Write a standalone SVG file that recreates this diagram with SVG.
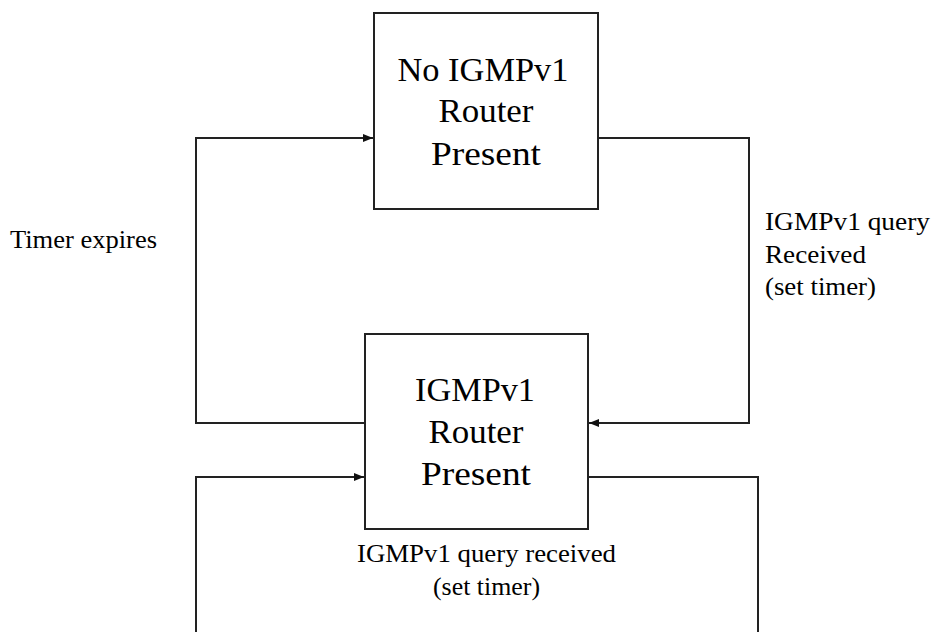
<svg xmlns="http://www.w3.org/2000/svg" width="935" height="632" viewBox="0 0 935 632">
<style>
.box{fill:#fff;stroke:#222;stroke-width:2}
.ln{fill:none;stroke:#222;stroke-width:2}
.t{font-family:"Liberation Serif","Times New Roman",serif;fill:#000}
.bt{font-size:33px;text-anchor:middle}
.lb{font-size:25px}
</style>
<defs>
<marker id="ah" markerWidth="10" markerHeight="8" refX="10" refY="4" orient="auto" markerUnits="userSpaceOnUse">
<path d="M0,0 L10,4 L0,8 Z" fill="#111"/>
</marker>
</defs>
<rect width="935" height="632" fill="#fff"/>
<g id="connectors">
<polyline class="ln" points="365,423 196,423 196,138 373,138" marker-end="url(#ah)"/>
<polyline class="ln" points="598,138 749,138 749,423 589,423" marker-end="url(#ah)"/>
<polyline class="ln" points="196,640 196,477 364,477" marker-end="url(#ah)"/>
<polyline class="ln" points="588,477 758,477 758,640"/>
</g>
<g id="node-no-igmpv1">
<rect class="box" x="374" y="13" width="224" height="196"/>
<text class="t bt" x="483" y="81" textLength="171" lengthAdjust="spacingAndGlyphs">No IGMPv1</text>
<text class="t bt" x="486" y="122" textLength="95" lengthAdjust="spacingAndGlyphs">Router</text>
<text class="t bt" x="486" y="165" textLength="110" lengthAdjust="spacingAndGlyphs">Present</text>
</g>
<g id="node-igmpv1">
<rect class="box" x="365" y="334" width="223" height="195"/>
<text class="t bt" x="475" y="401" textLength="120" lengthAdjust="spacingAndGlyphs">IGMPv1</text>
<text class="t bt" x="476" y="443" textLength="95" lengthAdjust="spacingAndGlyphs">Router</text>
<text class="t bt" x="476" y="485" textLength="110" lengthAdjust="spacingAndGlyphs">Present</text>
</g>
<g id="labels">
<text class="t lb" x="10" y="248" textLength="147" lengthAdjust="spacingAndGlyphs">Timer expires</text>
<text class="t lb" x="765" y="230" textLength="165" lengthAdjust="spacingAndGlyphs">IGMPv1  query</text>
<text class="t lb" x="765" y="263" textLength="101" lengthAdjust="spacingAndGlyphs">Received</text>
<text class="t lb" x="765" y="295" textLength="111" lengthAdjust="spacingAndGlyphs">(set timer)</text>
<text class="t lb" x="357" y="562" textLength="259" lengthAdjust="spacingAndGlyphs">IGMPv1  query received</text>
<text class="t lb" x="433" y="595" textLength="107" lengthAdjust="spacingAndGlyphs">(set timer)</text>
</g>
</svg>
